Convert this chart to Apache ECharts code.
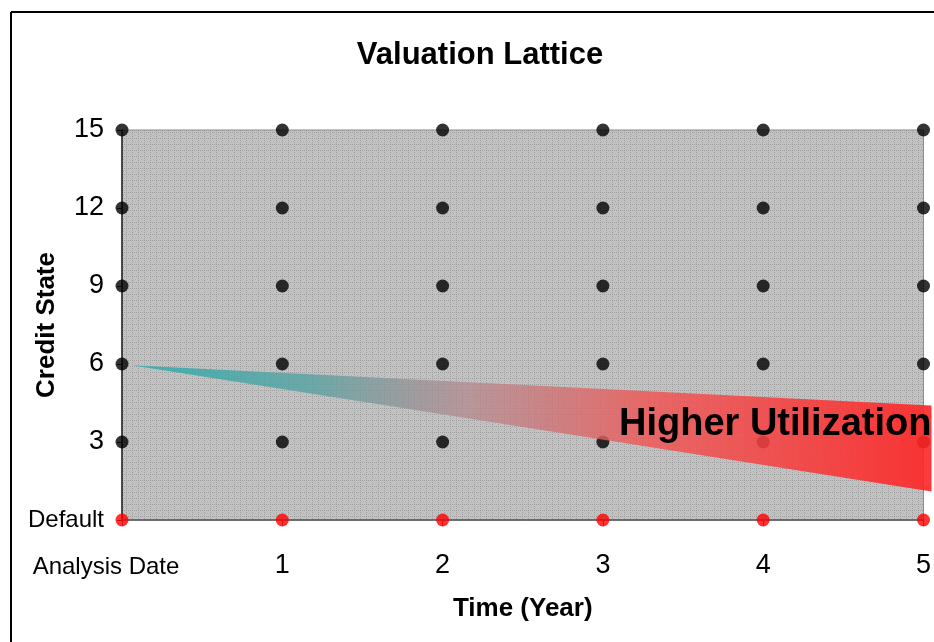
<!DOCTYPE html>
<html>
<head>
<meta charset="utf-8">
<script src="https://cdn.jsdelivr.net/npm/echarts@6/dist/echarts.min.js"></script>
<style>html,body{margin:0;padding:0;background:#fff}#c{width:934px;height:642px}</style>
</head>
<body>
<div id="c"></div>
<script>
// ---- data ----
var timePoints = [0, 1, 2, 3, 4, 5];
var creditStates = [3, 6, 9, 12, 15];
var defaultState = 0;
var xTickLabels = ['Analysis Date', '1', '2', '3', '4', '5'];
var yTickLabels = { 0: 'Default', 3: '3', 6: '6', 9: '9', 12: '12', 15: '15' };
// wedge polygon (time, credit state)
var wedgeX = [0.06, 5.05, 5.05];
var wedgeY = [5.95, 4.4, 1.1];

var statePoints = [];
timePoints.forEach(function (t) { creditStates.forEach(function (s) { statePoints.push([t, s]); }); });
var defaultPoints = timePoints.map(function (t) { return [t, defaultState]; });
var wedgeData = wedgeX.map(function (x, i) { return [x, wedgeY[i]]; });

// dotted background pattern
var pc = document.createElement('canvas');
pc.width = 6; pc.height = 6;
var pctx = pc.getContext('2d');
pctx.fillStyle = '#c2c2c2'; pctx.fillRect(0, 0, 6, 6);
pctx.fillStyle = '#9e9e9e';
for (var i = 0; i < 6; i += 2) { pctx.fillRect(i, 0, 1, 1); pctx.fillRect(0, i, 1, 1); }
pctx.fillStyle = '#acacac';
pctx.fillRect(3, 3, 1, 1);

var chart = echarts.init(document.getElementById('c'), null, { renderer: 'canvas' });
var font = '"Liberation Sans", Arial, sans-serif';
chart.setOption({
  animation: false,
  backgroundColor: '#fff',
  title: {
    text: 'Valuation Lattice', left: 475, top: 35, textAlign: 'center',
    textStyle: { fontFamily: font, fontSize: 31, fontWeight: 'bold', color: '#000' }
  },
  grid: {
    left: 122, right: 9, top: 130, bottom: 122, show: true,
    backgroundColor: { image: pc, repeat: 'repeat' },
    borderColor: '#8a8a8a', borderWidth: 1
  },
  xAxis: {
    type: 'value', min: 0, max: 5, interval: 1,
    name: 'Time (Year)', nameLocation: 'middle', nameGap: 76, nameMoveOverlap: false,
    nameTextStyle: { fontFamily: font, fontSize: 26, fontWeight: 'bold', color: '#000' },
    axisLine: { show: true, onZero: false, lineStyle: { color: '#555', width: 1.5 } },
    axisTick: { show: true, length: 6, lineStyle: { color: '#555' } },
    splitLine: { show: false },
    axisLabel: {
      margin: 32,
      formatter: function (v) {
        return v === 0 ? '{a|' + xTickLabels[0] + '}' : '{n|' + xTickLabels[v] + '}';
      },
      rich: {
        a: { fontFamily: font, fontSize: 24, color: '#000', padding: [3, 32, 0, 0] },
        n: { fontFamily: font, fontSize: 27, color: '#000' }
      }
    }
  },
  yAxis: {
    type: 'value', min: 0, max: 15, interval: 3,
    name: 'Credit State', nameLocation: 'middle', nameGap: 62, nameRotate: 90, nameMoveOverlap: false,
    nameTextStyle: { fontFamily: font, fontSize: 26, fontWeight: 'bold', color: '#000' },
    axisLine: { show: true, onZero: false, lineStyle: { color: '#222', width: 1.5 } },
    axisTick: { show: true, length: 5, lineStyle: { color: '#222' } },
    splitLine: { show: false },
    axisLabel: {
      margin: 18,
      formatter: function (v) {
        return v === 0 ? '{d|' + yTickLabels[0] + '}' : '{n|' + yTickLabels[v] + '}';
      },
      rich: {
        d: { fontFamily: font, fontSize: 24, color: '#000' },
        n: { fontFamily: font, fontSize: 27, color: '#000' }
      }
    }
  },
  series: [
    {
      type: 'scatter', data: statePoints, symbolSize: 13,
      itemStyle: { color: '#000' }, z: 3
    },
    {
      type: 'scatter', data: defaultPoints, symbolSize: 13,
      itemStyle: { color: '#ff0000' }, clip: false, z: 3
    },
    {
      type: 'custom', data: wedgeData, clip: false, z: 4,
      renderItem: function (params, api) {
        if (params.dataIndex !== 0) return;
        var pts = wedgeData.map(function (d) { return api.coord(d); });
        return {
          type: 'polygon',
          shape: { points: pts },
          style: {
            fill: new echarts.graphic.LinearGradient(0, 0, 1, 0, [
              { offset: 0, color: 'rgba(40,172,172,0.85)' },
              { offset: 0.22, color: 'rgba(85,162,162,0.8)' },
              { offset: 0.42, color: 'rgba(180,135,140,0.72)' },
              { offset: 0.64, color: 'rgba(240,85,85,0.82)' },
              { offset: 1, color: 'rgba(255,35,35,0.9)' }
            ])
          }
        };
      }
    }
  ],
  graphic: [
    { type: 'line', shape: { x1: 11, y1: 12, x2: 934, y2: 12 }, style: { stroke: '#000', lineWidth: 2 }, z: 10 },
    { type: 'line', shape: { x1: 11, y1: 12, x2: 11, y2: 642 }, style: { stroke: '#000', lineWidth: 2 }, z: 10 },
    {
      type: 'text', left: 619, top: 406, z: 20,
      style: { text: 'Higher Utilization', fontFamily: font, fontSize: 38, fontWeight: 'bold', fill: '#000' }
    }
  ]
});
</script>
</body>
</html>
